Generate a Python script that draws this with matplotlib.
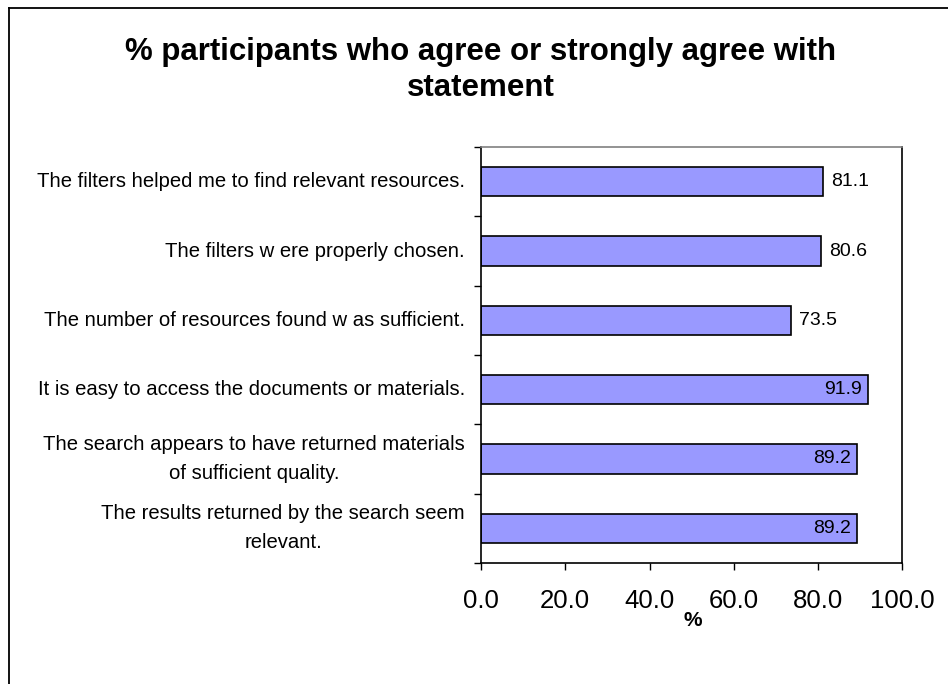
import matplotlib.pyplot as plt
from matplotlib.lines import Line2D
from matplotlib.ticker import FixedLocator
import numpy as np

plt.rcParams['font.family'] = ['Liberation Sans', 'DejaVu Sans']

# survey statements, listed top to bottom
statements = [
    'The filters helped me to find relevant resources.',
    'The filters w ere properly chosen.',
    'The number of resources found w as sufficient.',
    'It is easy to access the documents or materials.',
    'The search appears to have returned materials\nof sufficient quality.',
    'The results returned by the search seem\nrelevant.',
]
percent_agree = [81.1, 80.6, 73.5, 91.9, 89.2, 89.2]
x_ticks = [0, 20, 40, 60, 80, 100]

fig = plt.figure(figsize=(9.48, 6.84), dpi=100)
ax = fig.add_axes([0.5074, 0.177, 0.4444, 0.608])

pos = np.arange(len(statements))
ax.barh(pos, percent_agree, height=0.42, color='#9999FF',
        edgecolor='black', linewidth=1.2)

# values: outside the bar end, or inside when the bar is near the right edge
for p, v in zip(pos, percent_agree):
    if v > 85:
        ax.text(v - 1.4, p, f'{v:.1f}', ha='right', va='center', fontsize=14)
    else:
        ax.text(v + 2.0, p, f'{v:.1f}', ha='left', va='center', fontsize=14)

ax.set_xlim(0, 100)
ax.set_ylim(len(statements) - 0.5, -0.5)
ax.xaxis.set_major_locator(FixedLocator(x_ticks))
ax.set_xticklabels([f'{t:.1f}' for t in x_ticks], fontsize=18.5)
ax.tick_params(axis='x', direction='out', length=5, width=1, pad=14)

ax.set_yticks(pos)
ax.set_yticklabels(statements, fontsize=14.6, ma='center', va='center',
                   linespacing=1.68)
ax.yaxis.set_minor_locator(FixedLocator(np.arange(-0.5, len(statements), 1)))
ax.tick_params(axis='y', which='major', length=0, pad=11.5)
ax.tick_params(axis='y', which='minor', direction='out', length=5, width=1)

for side in ['left', 'bottom', 'right']:
    ax.spines[side].set_color('black')
    ax.spines[side].set_linewidth(1.2)
ax.spines['top'].set_color('#808080')
ax.spines['top'].set_linewidth(1.2)

fig.text(481 / 948, 1 - 70 / 684,
         '% participants who agree or strongly agree with\nstatement',
         ha='center', va='center', fontsize=22.5, fontweight='bold',
         linespacing=1.3)
fig.text(693 / 948, 1 - 620 / 684, '%', ha='center', va='center',
         fontsize=15, fontweight='bold')

# chart area border
fig.add_artist(Line2D([9 / 948, 9 / 948], [0, 1 - 8 / 684],
                      color='black', linewidth=1.3))
fig.add_artist(Line2D([9 / 948, 1], [1 - 8 / 684, 1 - 8 / 684],
                      color='black', linewidth=1.3))

fig.savefig('out.png', dpi=100)
